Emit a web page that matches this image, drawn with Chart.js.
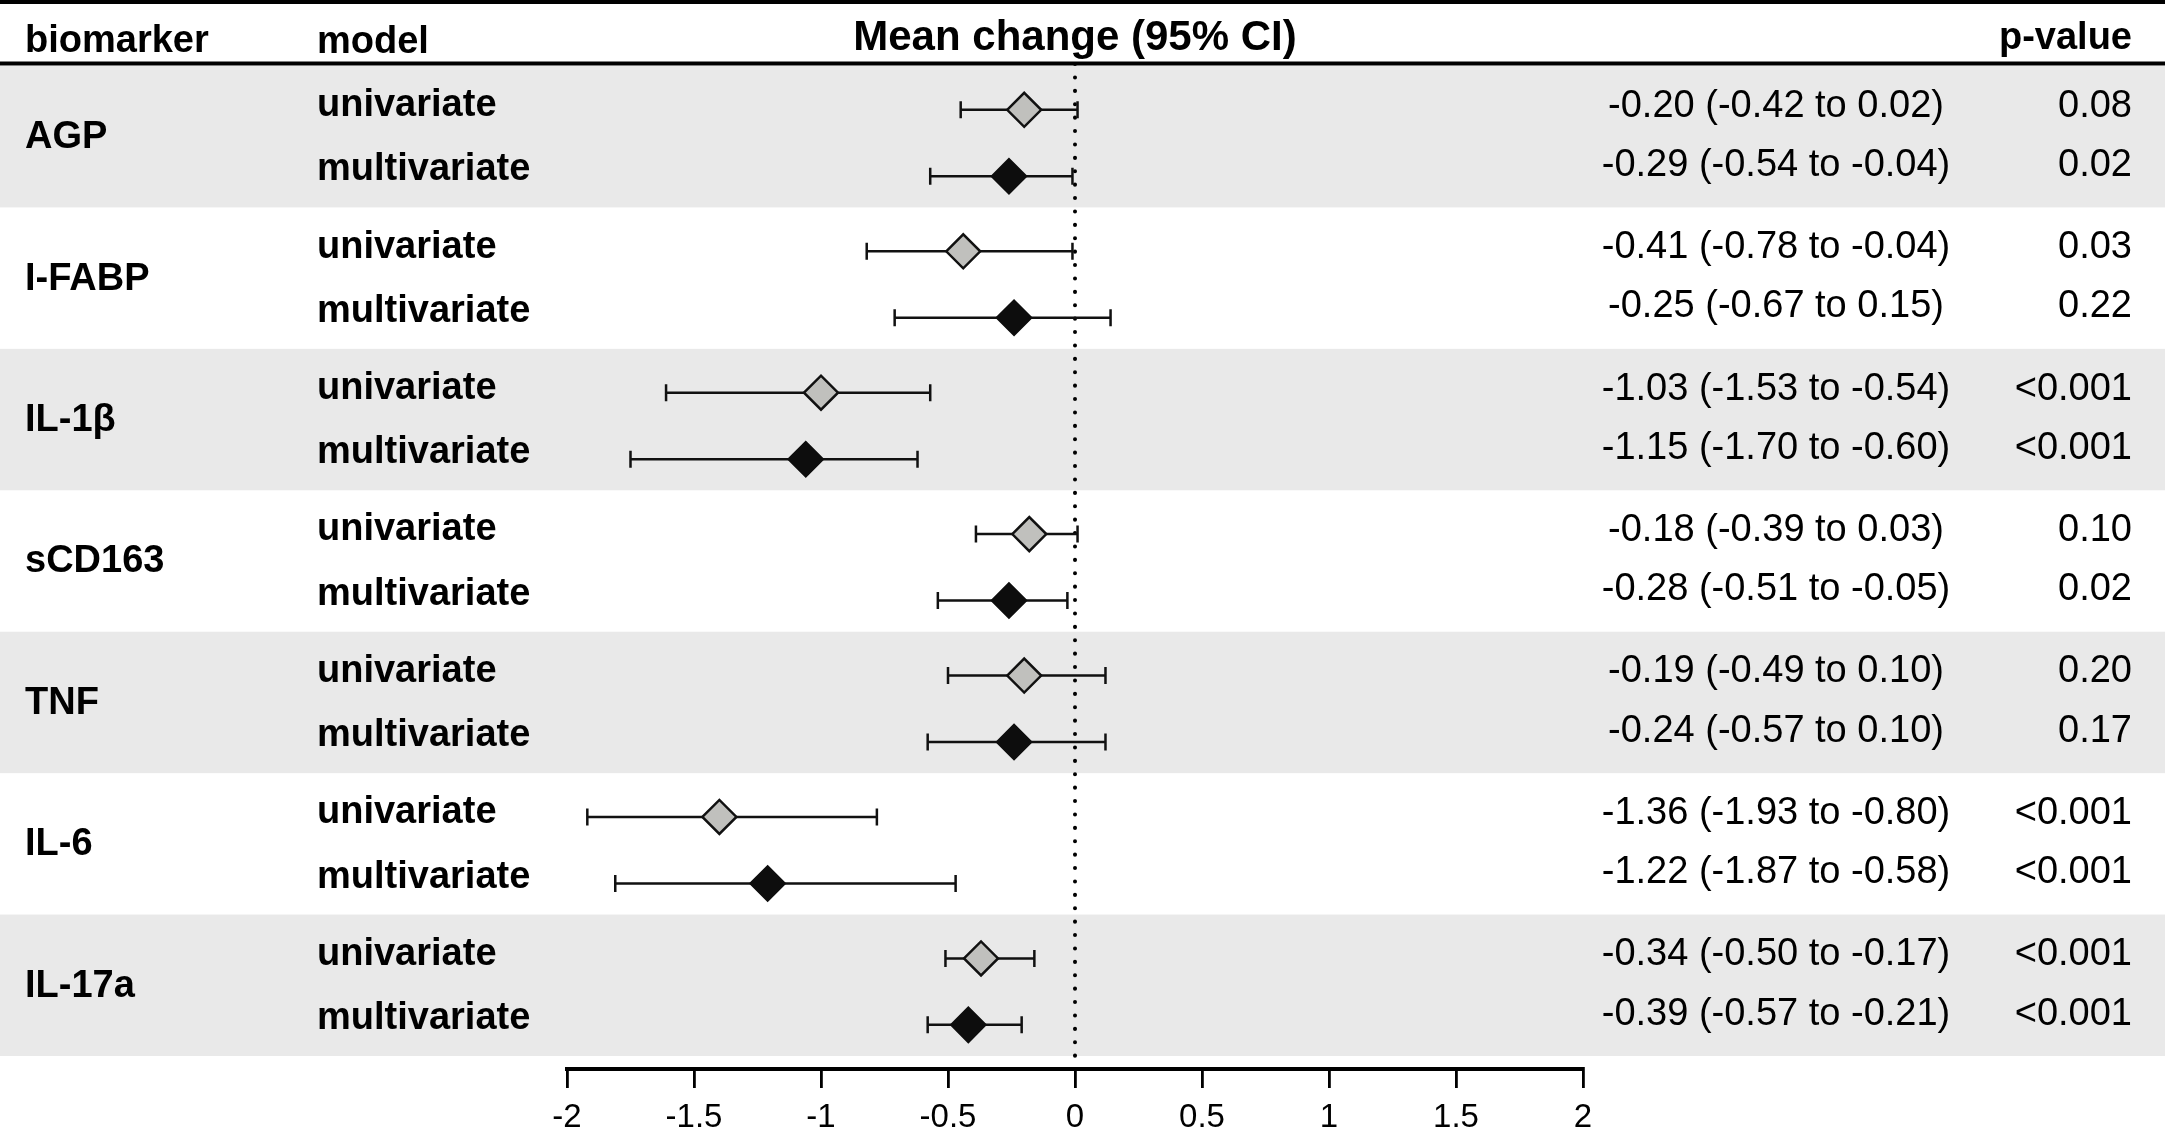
<!DOCTYPE html>
<html>
<head>
<meta charset="utf-8">
<title>Mean change (95% CI)</title>
<script src="https://cdn.jsdelivr.net/npm/chart.js@4/dist/chart.umd.min.js"></script>
<style>
  html, body { margin: 0; padding: 0; background: #fff; }
  #wrap { position: relative; width: 2165px; height: 1130px; }
</style>
</head>
<body>
<div id="wrap"><canvas id="forest"></canvas></div>
<script>
// rows, top to bottom
const biomarkers = ['AGP', 'I-FABP', 'IL-1β', 'sCD163', 'TNF', 'IL-6', 'IL-17a'];
const models = ['univariate', 'multivariate'];

// plotted estimates
const uniMean  = [-0.20, -0.44, -1.00, -0.18, -0.20, -1.40, -0.37];
const uniLow   = [-0.45, -0.82, -1.61, -0.39, -0.50, -1.92, -0.51];
const uniHigh  = [ 0.01, -0.01, -0.57,  0.01,  0.12, -0.78, -0.16];
const multiMean = [-0.26, -0.24, -1.06, -0.26, -0.24, -1.21, -0.42];
const multiLow  = [-0.57, -0.71, -1.75, -0.54, -0.58, -1.81, -0.58];
const multiHigh = [-0.01,  0.14, -0.62, -0.03,  0.12, -0.47, -0.21];

// printed columns
const uniText = ['-0.20 (-0.42 to 0.02)', '-0.41 (-0.78 to -0.04)', '-1.03 (-1.53 to -0.54)',
  '-0.18 (-0.39 to 0.03)', '-0.19 (-0.49 to 0.10)', '-1.36 (-1.93 to -0.80)', '-0.34 (-0.50 to -0.17)'];
const multiText = ['-0.29 (-0.54 to -0.04)', '-0.25 (-0.67 to 0.15)', '-1.15 (-1.70 to -0.60)',
  '-0.28 (-0.51 to -0.05)', '-0.24 (-0.57 to 0.10)', '-1.22 (-1.87 to -0.58)', '-0.39 (-0.57 to -0.21)'];
const uniP   = ['0.08', '0.03', '<0.001', '0.10', '0.20', '<0.001', '<0.001'];
const multiP = ['0.02', '0.22', '<0.001', '0.02', '0.17', '<0.001', '<0.001'];

const xTicks = [-2, -1.5, -1, -0.5, 0, 0.5, 1, 1.5, 2];

// layout
const FONT = '"Liberation Sans", Arial, Helvetica, sans-serif';
const UNI_OFF = -0.19, MULTI_OFF = 0.28;        // marker offsets inside a row
const LBL_OFF = [-0.22, 0.235];                  // model label offsets
const TXT_OFF = [-0.216, 0.204];                 // estimate / p-value offsets

function pts(means, off) {
  return means.map((m, i) => ({ x: m, y: i + off }));
}

const forestPlugin = {
  id: 'forest',
  beforeDatasetsDraw(chart) {
    const ctx = chart.ctx, xs = chart.scales.x, ys = chart.scales.y;
    const W = chart.width;
    ctx.save();
    // shaded bands
    ctx.fillStyle = '#e9e9e9';
    biomarkers.forEach((b, i) => {
      if (i % 2) return;
      const t = ys.getPixelForValue(i - 0.5), bt = ys.getPixelForValue(i + 0.5);
      ctx.fillRect(0, t, W, bt - t);
    });
    // dotted zero line
    const x0 = xs.getPixelForValue(0);
    ctx.strokeStyle = '#000';
    ctx.lineWidth = 4;
    ctx.lineCap = 'round';
    ctx.setLineDash([0.1, 13.3]);
    ctx.beginPath();
    ctx.moveTo(x0, 64);
    ctx.lineTo(x0, chart.chartArea.bottom - 4);
    ctx.stroke();
    ctx.setLineDash([]);
    // whiskers
    ctx.strokeStyle = '#111';
    ctx.lineWidth = 2.5;
    ctx.lineCap = 'butt';
    const whisk = (lo, hi, off) => {
      lo.forEach((l, i) => {
        const y = ys.getPixelForValue(i + off);
        const a = xs.getPixelForValue(l), b = xs.getPixelForValue(hi[i]);
        ctx.beginPath();
        ctx.moveTo(a, y); ctx.lineTo(b, y);
        ctx.moveTo(a, y - 8.5); ctx.lineTo(a, y + 8.5);
        ctx.moveTo(b, y - 8.5); ctx.lineTo(b, y + 8.5);
        ctx.stroke();
      });
    };
    whisk(uniLow, uniHigh, UNI_OFF);
    whisk(multiLow, multiHigh, MULTI_OFF);
    ctx.restore();
  },
  afterDraw(chart) {
    const ctx = chart.ctx, xs = chart.scales.x, ys = chart.scales.y;
    const W = chart.width;
    ctx.save();
    ctx.fillStyle = '#000';
    // rules
    ctx.fillRect(0, 0, W, 4);
    ctx.fillRect(0, 61.5, W, 4);
    // header
    ctx.textBaseline = 'alphabetic';
    ctx.font = 'bold 38px ' + FONT;
    ctx.textAlign = 'left';
    ctx.fillText('biomarker', 25, 52);
    ctx.fillText('model', 317, 53);
    ctx.textAlign = 'right';
    ctx.fillText('p-value', 2132, 49);
    ctx.font = 'bold 42px ' + FONT;
    ctx.textAlign = 'center';
    ctx.fillText('Mean change (95% CI)', xs.getPixelForValue(0), 50);
    // rows
    ctx.textBaseline = 'middle';
    biomarkers.forEach((b, i) => {
      ctx.font = 'bold 38px ' + FONT;
      ctx.textAlign = 'left';
      ctx.fillText(b, 25, ys.getPixelForValue(i) + 1);
      models.forEach((m, k) => {
        ctx.fillText(m, 317, ys.getPixelForValue(i + LBL_OFF[k]));
      });
      ctx.font = '38px ' + FONT;
      const est = [uniText[i], multiText[i]];
      const pv = [uniP[i], multiP[i]];
      [0, 1].forEach(k => {
        const y = ys.getPixelForValue(i + TXT_OFF[k]);
        ctx.textAlign = 'center';
        ctx.fillText(est[k], 1776, y);
        ctx.textAlign = 'right';
        ctx.fillText(pv[k], 2132, y);
      });
    });
    ctx.restore();
  }
};

new Chart(document.getElementById('forest'), {
  type: 'scatter',
  data: {
    datasets: [
      {
        label: 'univariate',
        data: pts(uniMean, UNI_OFF),
        pointStyle: 'rectRot',
        pointRadius: 17,
        pointHoverRadius: 17,
        backgroundColor: '#c0c0bd',
        borderColor: '#111',
        borderWidth: 2.5
      },
      {
        label: 'multivariate',
        data: pts(multiMean, MULTI_OFF),
        pointStyle: 'rectRot',
        pointRadius: 17,
        pointHoverRadius: 17,
        backgroundColor: '#0d0d0d',
        borderColor: '#0d0d0d',
        borderWidth: 2.5
      }
    ]
  },
  options: {
    responsive: true,
    maintainAspectRatio: false,
    animation: false,
    events: [],
    layout: { padding: { left: 567, right: 582, top: 66, bottom: 0 } },
    plugins: { legend: { display: false }, tooltip: { enabled: false } },
    scales: {
      x: {
        type: 'linear',
        min: -2,
        max: 2,
        afterBuildTicks: s => { s.ticks = xTicks.map(v => ({ value: v })); },
        afterFit: s => { s.height = 61; },
        border: { display: true, color: '#000', width: 4 },
        grid: { display: true, drawOnChartArea: false, drawTicks: true, tickLength: 19, color: '#000', lineWidth: 2.8 },
        ticks: {
          color: '#000',
          font: { family: FONT, size: 33 },
          padding: 10,
          maxRotation: 0,
          autoSkip: false,
          callback: v => String(v)
        }
      },
      y: {
        type: 'linear',
        display: false,
        reverse: true,
        min: -0.5,
        max: 6.592
      }
    }
  },
  plugins: [forestPlugin]
});
</script>
</body>
</html>
